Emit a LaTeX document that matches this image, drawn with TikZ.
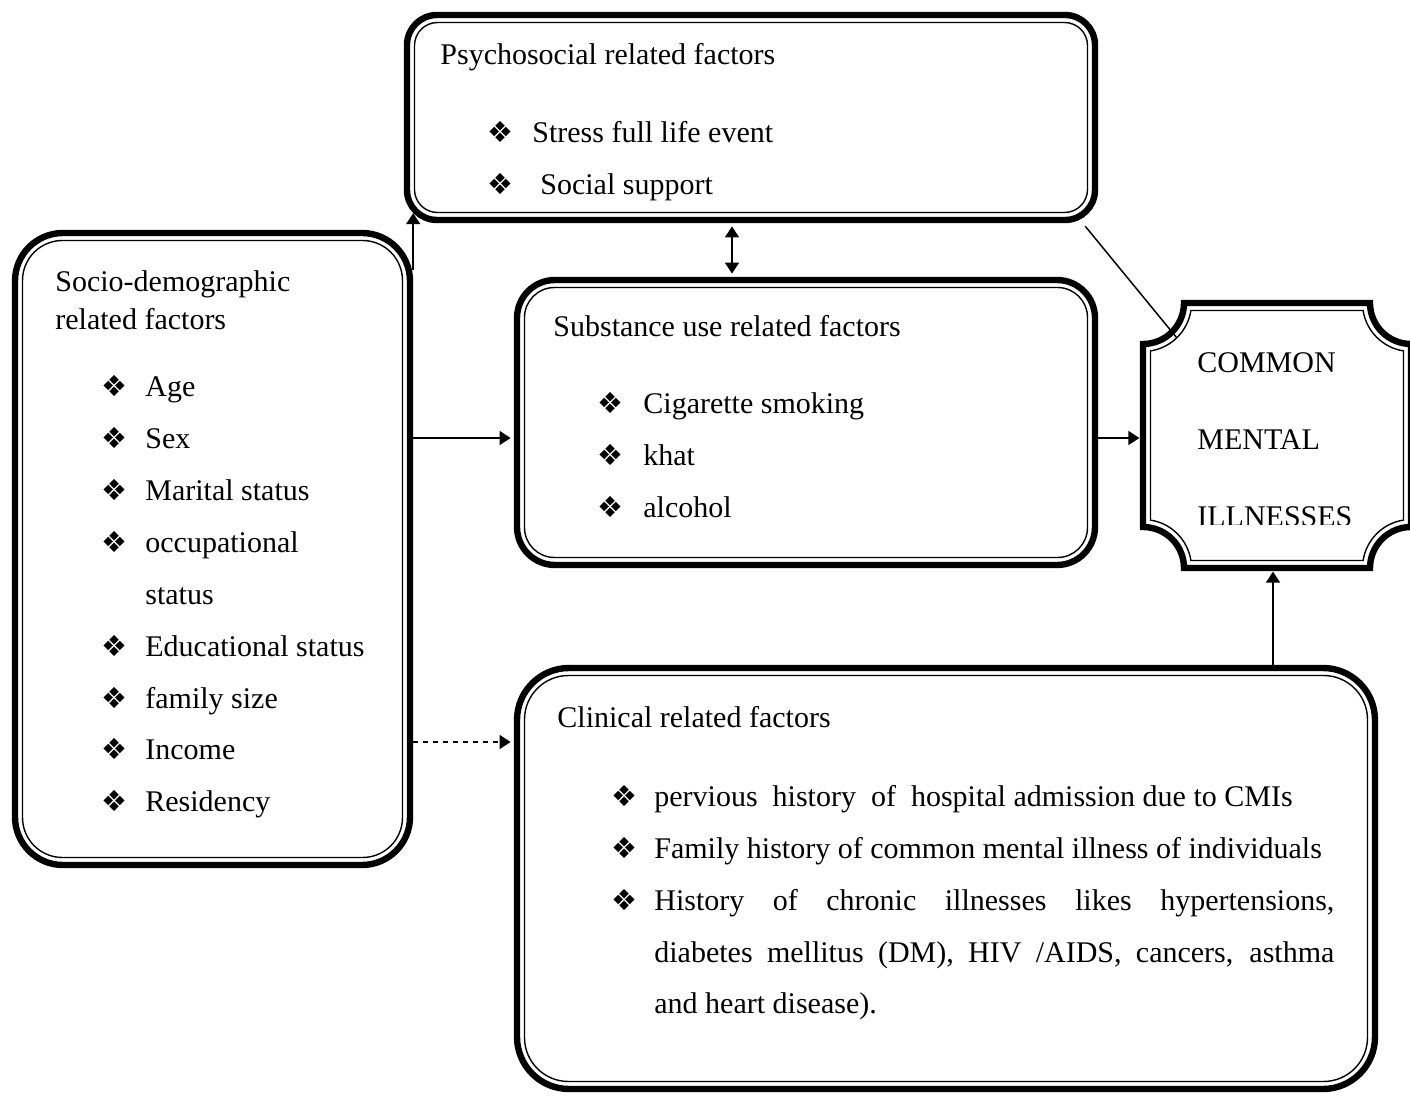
\documentclass[tikz,border=0pt]{standalone}
\usepackage{fontspec}
\setmainfont{Liberation Serif}
\newfontfamily\dvs{DejaVu Sans}
\usetikzlibrary{arrows.meta,calc}
\begin{document}
\begin{tikzpicture}[x=0.5pt,y=-0.5pt,
 outerb/.style={draw, line width=3.2pt, inner sep=0pt, rectangle},
 innerb/.style={draw, line width=0.7pt, inner sep=0pt, rectangle},
 txt/.style={anchor=base west, inner sep=0pt, font=\fontsize{15}{18}\selectfont},
 bul/.style={anchor=base west, inner sep=0pt, font=\dvs\fontsize{14.5}{14.5}\selectfont},
 arr/.style={line width=0.75pt, -{Triangle[length=5.5pt,width=7pt]}},
 lnk/.style={line width=0.75pt},
]
\useasboundingbox (0,0) rectangle (1410,1096);

% boxes
\node[outerb, rounded corners=15pt, minimum width=344pt, minimum height=102.5pt] (psy) at (751,117.5) {};
\node[innerb, rounded corners=11.5pt, minimum width=336.5pt, minimum height=95pt] (psyin) at (751,117.5) {};

\node[outerb, rounded corners=24pt, minimum width=197.5pt, minimum height=316pt] (soc) at (212.5,549) {};
\node[innerb, rounded corners=20pt, minimum width=190pt, minimum height=308.5pt] (socin) at (212.5,549) {};

\node[outerb, rounded corners=19pt, minimum width=289pt, minimum height=142.5pt] (sub) at (806,422.5) {};
\node[innerb, rounded corners=15pt, minimum width=281.5pt, minimum height=135pt] (subin) at (806,422.5) {};

\node[outerb, rounded corners=26pt, minimum width=429pt, minimum height=210.5pt] (cli) at (946,878.5) {};
\node[innerb, rounded corners=22pt, minimum width=421.5pt, minimum height=203pt] (cliin) at (946,878.5) {};

% CMI box (L=1143, R=1411, T=303, B=568, r=41)
\node[inner sep=0pt, minimum width=134pt, minimum height=132.5pt] (cmi) at (1277,435.5) {};
\draw[line width=3.2pt] (1184,303) -- (1370,303)
  arc[start angle=180, end angle=270, radius=20.5pt] -- (1411,527)
  arc[start angle=90, end angle=180, radius=20.5pt] -- (1184,568)
  arc[start angle=0, end angle=90, radius=20.5pt] -- (1143,344)
  arc[start angle=-90, end angle=0, radius=20.5pt] -- cycle;
\draw[line width=0.7pt] (1190.92,310.5) -- (1363.08,310.5)
  arc[start angle=188.9, end angle=261.1, radius=24.25pt] -- (1403.5,520.08)
  arc[start angle=98.9, end angle=171.1, radius=24.25pt] -- (1190.92,560.5)
  arc[start angle=8.9, end angle=81.1, radius=24.25pt] -- (1150.5,350.92)
  arc[start angle=-81.1, end angle=-8.9, radius=24.25pt] -- cycle;

% psychosocial texts
\node[txt] (p0) at (440,65) {Psychosocial related factors};
\node[bul] (pb1) at (487,143) {❖};
\node[txt] (p1) at (532,143) {Stress full life event};
\node[bul] (pb2) at (487,195) {❖};
\node[txt] (p2) at (540,195) {Social support};

% socio texts
\node[txt] (s0) at (55,292) {Socio-demographic};
\node[txt] (s00) at (55,330) {related factors};
\node[bul] (sb1) at (101,397) {❖}; \node[txt] (s1) at (145,397) {Age};
\node[bul] (sb2) at (101,449) {❖}; \node[txt] (s2) at (145,449) {Sex};
\node[bul] (sb3) at (101,501) {❖}; \node[txt] (s3) at (145,501) {Marital status};
\node[bul] (sb4) at (101,553) {❖}; \node[txt] (s4) at (145,553) {occupational};
\node[txt] (s4b) at (145,605) {status};
\node[bul] (sb5) at (101,657) {❖}; \node[txt] (s5) at (145,657) {Educational status};
\node[bul] (sb6) at (101,709) {❖}; \node[txt] (s6) at (145,709) {family size};
\node[bul] (sb7) at (101,760) {❖}; \node[txt] (s7) at (145,760) {Income};
\node[bul] (sb8) at (101,812) {❖}; \node[txt] (s8) at (145,812) {Residency};

% substance texts
\node[txt] (u0) at (553,337) {Substance use related factors};
\node[bul] (ub1) at (597,414) {❖}; \node[txt] (u1) at (643,414) {Cigarette smoking};
\node[bul] (ub2) at (597,466) {❖}; \node[txt] (u2) at (643,466) {khat};
\node[bul] (ub3) at (597,518) {❖}; \node[txt] (u3) at (643,518) {alcohol};

% clinical texts
\node[txt] (c0) at (557,728) {Clinical related factors};
\node[bul] (cb1) at (611,806) {❖};
\node[txt] (c1) at (654,806) {pervious\ \ history\ \ of\ \ hospital admission due to CMIs};
\node[bul] (cb2) at (611,858) {❖};
\node[txt] (c2) at (654,858) {Family history of common mental illness of individuals};
\node[bul] (cb3) at (611,910) {❖};
\node[txt] (c3) at (654,910) {\makebox[340pt][s]{History of chronic illnesses likes hypertensions,}};
\node[txt] (c4) at (654,962) {\makebox[340pt][s]{diabetes mellitus (DM), HIV /AIDS, cancers, asthma}};
\node[txt] (c5) at (654,1013) {and heart disease).};

% CMI texts
\node[txt] (m1) at (1197,373) {COMMON};
\node[txt] (m2) at (1197,450) {MENTAL};
\begin{scope}
\clip (1150,310) rectangle (1400,525);
\node[txt] (m3) at (1197,527) {ILLNESSES};
\end{scope}

% connectors
\draw[arr] ([yshift=-20pt]soc.north east) -- ([yshift=5pt]soc.north east |- psy.south);
\draw[lnk, {Triangle[length=5.5pt,width=7pt]}-{Triangle[length=5.5pt,width=7pt]}, shorten <=1.6pt, shorten >=1.6pt]
  ([xshift=-9.5pt]psy.south) -- ([xshift=-9.5pt]psy.south |- sub.north);
\draw[arr, shorten >=1.6pt] ([yshift=-7.75pt]sub.west -| soc.east) -- ([yshift=-7.75pt]sub.west);
\draw[arr, dash pattern=on 2.5pt off 2.5pt, shorten >=1.6pt] ([yshift=68.25pt]cli.west -| soc.east) -- ([yshift=68.25pt]cli.west);
\draw[arr, shorten >=1.6pt] ([yshift=-1.25pt]cmi.west -| sub.east) -- ([yshift=-1.25pt]cmi.west);
\draw[arr, shorten >=1.6pt] ([xshift=-2pt]cmi.south |- cli.north) -- ([xshift=-2pt]cmi.south);
\draw[lnk] ([shift={(-6.5pt,-1.5pt)}]psy.south east) -- ([shift={(17pt,-17.5pt)}]cmi.north west);
\end{tikzpicture}
\end{document}
